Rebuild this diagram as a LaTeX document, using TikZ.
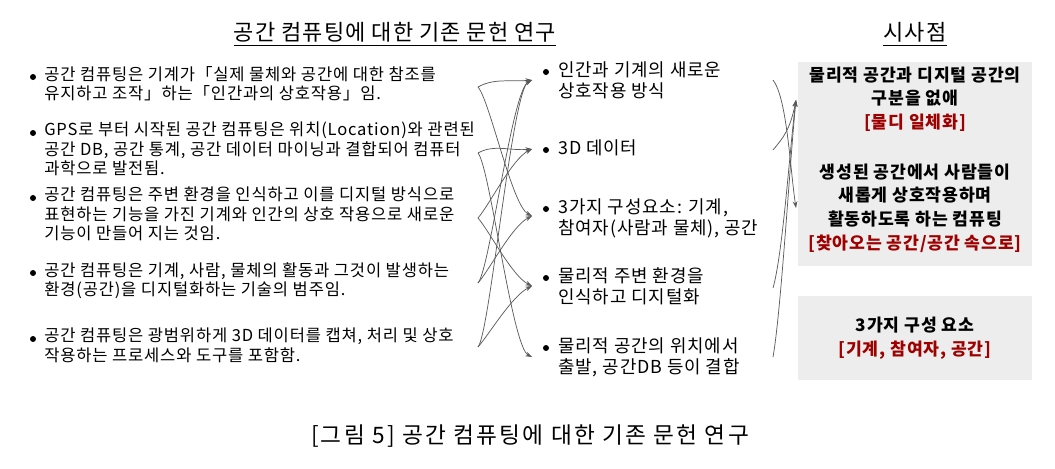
\documentclass[tikz,border=0pt]{standalone}
\usepackage{fontspec}
\setmainfont{Noto Sans CJK KR}
\newfontfamily\krwide[LetterSpace=5]{Noto Sans CJK KR}
\newfontfamily\krcap[LetterSpace=10]{Noto Sans CJK KR}
\usetikzlibrary{arrows.meta}
\definecolor{boxgray}{HTML}{EDEDED}
\definecolor{linegray}{HTML}{5A5A5A}
\definecolor{keyred}{HTML}{9E0000}
\begin{document}
\begin{tikzpicture}[x=0.75pt,y=-0.75pt,
  lit/.style={anchor=north west,align=left,inner sep=0pt,font=\krwide\fontsize{12.4}{14.6}\selectfont},
  mid/.style={anchor=north west,align=left,inner sep=0pt,font=\krwide\fontsize{13.4}{15.9}\selectfont},
  dot/.style={circle,fill=black,inner sep=0pt,minimum size=4.5pt},
  link/.style={draw=linegray,line width=0.55pt,-{Stealth[length=5pt,width=3.5pt]}},
  greybox/.style={fill=boxgray,inner sep=0pt,anchor=north west,minimum width=175.5pt},
  imp/.style={align=center,inner sep=0pt,font=\krwide\bfseries\fontsize{12.9}{17.8}\selectfont},
  head/.style={font=\krwide\fontsize{16.5}{19}\selectfont,inner sep=0pt}]
\useasboundingbox (0,0) rectangle (1055,468);

% headings
\node[head] (title) at (395,32) {공간 컴퓨팅에 대한 기존 문헌 연구};
\node[head] (lesson) at (915,32) {시사점};
\draw[line width=1pt] ([yshift=-2.5pt]title.south west) -- ([yshift=-2.5pt]title.south east);
\draw[line width=1pt] ([yshift=-2.5pt]lesson.south west) -- ([yshift=-2.5pt]lesson.south east);

% previous studies
\node[dot] (ld1) at (33,77) {};
\node[lit] (l1) at (44,66) {공간 컴퓨팅은 기계가「실제 물체와 공간에 대한 참조를\\유지하고 조작」하는「인간과의 상호작용」임.};
\node[dot] (ld2) at (33,133) {};
\node[lit] (l2) at (44,122) {GPS로 부터 시작된 공간 컴퓨팅은 위치(Location)와 관련된\\공간 DB, 공간 통계, 공간 데이터 마이닝과 결합되어 컴퓨터\\과학으로 발전됨.};
\node[dot] (ld3) at (33,198) {};
\node[lit] (l3) at (44,187) {공간 컴퓨팅은 주변 환경을 인식하고 이를 디지털 방식으로\\표현하는 기능을 가진 기계와 인간의 상호 작용으로 새로운\\기능이 만들어 지는 것임.};
\node[dot] (ld4) at (33,273) {};
\node[lit] (l4) at (44,262) {공간 컴퓨팅은 기계, 사람, 물체의 활동과 그것이 발생하는\\환경(공간)을 디지털화하는 기술의 범주임.};
\node[dot] (ld5) at (33,339) {};
\node[lit] (l5) at (44,328) {공간 컴퓨팅은 광범위하게 3D 데이터를 캡쳐, 처리 및 상호\\작용하는 프로세스와 도구를 포함함.};

% keywords
\node[dot] (md1) at (546,72) {};
\node[mid] (m1) at (558,61) {인간과 기계의 새로운\\상호작용 방식};
\node[dot] (md2) at (546,150) {};
\node[mid] (m2) at (558,139) {3D 데이터};
\node[dot] (md3) at (546,209) {};
\node[mid] (m3) at (558,198) {3가지 구성요소: 기계,\\참여자(사람과 물체), 공간};
\node[dot] (md4) at (546,278) {};
\node[mid] (m4) at (558,267) {물리적 주변 환경을\\인식하고 디지털화};
\node[dot] (md5) at (546,348) {};
\node[mid] (m5) at (558,337) {물리적 공간의 위치에서\\출발, 공간DB 등이 결합};

% implications
\node[greybox,minimum height=153pt] (box1) at (798,62) {};
\node[greybox,minimum height=63pt] (box2) at (798,296) {};
\node[imp] (i1) at (915,99) {물리적 공간과 디지털 공간의\\구분을 없애\\\textcolor{keyred}{[물디 일체화]}};
\node[imp] (i2) at (915,208) {생성된 공간에서 사람들이\\새롭게 상호작용하며\\활동하도록 하는 컴퓨팅\\\textcolor{keyred}{[찾아오는 공간/공간 속으로]}};
\node[imp] (i3) at (915,338) {3가지 구성 요소\\\textcolor{keyred}{[기계, 참여자, 공간]}};

% link ends
\foreach \n/\y in {1/87,2/153,3/218,4/283,5/347}
  \coordinate (s\n) at (478,\y);
\foreach \n/\y in {1/80,2/149,3/216,4/286,5/357}
  \coordinate (t\n) at (532,\y);
\foreach \n/\y in {1/80,2/150,4/288,5/357}
  \coordinate (k\n) at (773,\y);
\coordinate (r1) at (796,100);
\coordinate (r2) at (796,208);

% links: studies to keywords
\foreach \a in {1,2}
  \draw[link] (s\a) .. controls +(16,-9) and +(-22,2) .. (t\a);
\foreach \a/\b in {1/3,2/5,3/4}
  \draw[link] (s\a) .. controls +(12,14) and +(-20,-10) .. (t\b);
\foreach \a/\b in {3/2,4/1,4/3,5/1,5/4}
  \draw[link] (s\a) .. controls +(12,-14) and +(-20,10) .. (t\b);

% links: keywords to implications
\draw[link] (k1) .. controls +(14,18) and +(-6,-40) .. (r2);
\draw[link] (k2) .. controls +(10,-12) and +(-6,30) .. (r1);
\draw[link] (k4) .. controls +(10,-35) and +(-6,45) .. (r1);
\draw[link] (k5) .. controls +(8,-45) and +(-6,60) .. (r1);

% caption
\node[font=\krcap\fontsize{17}{20}\selectfont,inner sep=0pt] (caption) at (530,436) {[그림 5] 공간 컴퓨팅에 대한 기존 문헌 연구};
\end{tikzpicture}
\end{document}
